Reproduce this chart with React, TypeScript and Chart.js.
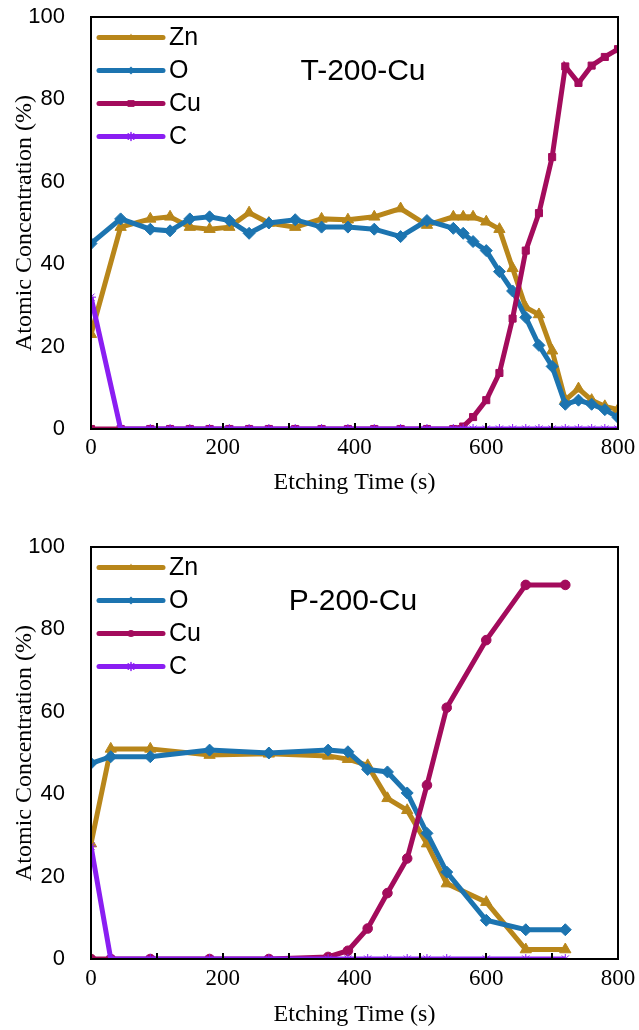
import React, { useEffect, useRef } from 'react';
import { Chart, registerables } from 'chart.js';

Chart.register(...registerables);

// ---------- Data ----------
const SERIES_NAMES = ['Zn', 'O', 'Cu', 'C'];

// T-200-Cu
const T_TIME = [0, 45, 90, 120, 150, 180, 210, 240, 270, 310, 350, 390, 430, 470, 510, 550, 565, 580, 600, 620, 640, 660, 680, 700, 720, 740, 760, 780, 800];
const T_ZN = [23, 49, 51, 51.5, 49, 48.5, 49, 52.5, 50, 49, 51, 50.8, 51.5, 53.5, 49.5, 51.5, 51.5, 51.5, 50.3, 48.5, 39, 29.5, 27.8, 19, 7, 9.8, 7, 5.5, 4.7];
const T_O = [45, 51, 48.5, 48.1, 51, 51.5, 50.6, 47.5, 50, 50.8, 49, 49, 48.5, 46.7, 50.6, 48.7, 47.5, 45.5, 43.3, 38.2, 33.5, 27.1, 20.3, 15.2, 6, 7, 6, 4.7, 2.8];
const T_CU = [0, 0, 0, 0, 0, 0, 0, 0, 0, 0, 0, 0, 0, 0, 0, 0, 0.6, 2.9, 7, 13.6, 26.8, 43.3, 52.4, 66, 88, 84, 88.2, 90.3, 92.2];
const T_C = [32, 0, 0, 0, 0, 0, 0, 0, 0, 0, 0, 0, 0, 0, 0, 0, 0, 0, 0, 0, 0, 0, 0, 0, 0, 0, 0, 0, 0];

// P-200-Cu
const P_TIME = [0, 30, 90, 180, 270, 360, 390, 420, 450, 480, 510, 540, 600, 660, 720];
const P_ZN = [28, 51, 51, 49.5, 49.8, 49.3, 48.5, 47, 39, 36.1, 28, 18.3, 13.8, 2.3, 2.3];
const P_O = [47.5, 49.1, 49.1, 50.7, 50, 50.7, 50.3, 46, 45.4, 40.3, 30.5, 21.1, 9.4, 7.1, 7.1];
const P_CU = [0, 0, 0, 0, 0, 0.5, 2, 7.4, 16, 24.4, 42.2, 61, 77.4, 90.8, 90.8];
const P_C = [27.4, 0, 0, 0, 0, 0, 0, 0, 0, 0, 0, 0, 0, 0, 0];

const X_MIN = 0;
const X_MAX = 800;
const X_STEP = 100;
const X_LABEL_STEP = 200;
const Y_MIN = 0;
const Y_MAX = 100;
const Y_STEP = 20;

const X_TITLE = 'Etching Time (s)';
const Y_TITLE = 'Atomic Concentration (%)';

// ---------- Styles ----------
const COLORS = ['#B8861A', '#1C74B0', '#A30B5C', '#8A1EF2'];
const SANS = '"Liberation Sans", Arial, sans-serif';
const SERIF = '"Liberation Serif", "Times New Roman", serif';
const W = 639;
const H = 515;
const PLOT_LEFT = 91;
const PLOT_RIGHT = 618;

type PanelProps = {
  time: number[];
  series: number[][];
  cuStyle: string;
  title: string;
  titleX: number;
  padTop: number;
  plotBottom: number;
  tickPad: number;
  titlePadBottom: number;
};

function drawMarker(ctx: CanvasRenderingContext2D, style: string, x: number, y: number, r: number, color: string) {
  ctx.save();
  ctx.fillStyle = color;
  ctx.strokeStyle = color;
  ctx.beginPath();
  if (style === 'triangle') {
    ctx.moveTo(x, y - r);
    ctx.lineTo(x + r * 0.9, y + r * 0.6);
    ctx.lineTo(x - r * 0.9, y + r * 0.6);
    ctx.closePath();
    ctx.fill();
  } else if (style === 'rectRot') {
    ctx.moveTo(x, y - r);
    ctx.lineTo(x + r, y);
    ctx.lineTo(x, y + r);
    ctx.lineTo(x - r, y);
    ctx.closePath();
    ctx.fill();
  } else if (style === 'rect') {
    ctx.fillRect(x - r * 0.85, y - r * 0.85, r * 1.7, r * 1.7);
  } else if (style === 'circle') {
    ctx.arc(x, y, r * 0.9, 0, Math.PI * 2);
    ctx.fill();
  } else {
    ctx.lineWidth = 1.5;
    ctx.moveTo(x, y - r);
    ctx.lineTo(x, y + r);
    ctx.moveTo(x - r * 0.7, y - r * 0.7);
    ctx.lineTo(x + r * 0.7, y + r * 0.7);
    ctx.moveTo(x + r * 0.7, y - r * 0.7);
    ctx.lineTo(x - r * 0.7, y + r * 0.7);
    ctx.stroke();
  }
  ctx.restore();
}

function Panel(props: PanelProps) {
  const ref = useRef<HTMLCanvasElement | null>(null);

  useEffect(() => {
    const canvas = ref.current;
    if (!canvas) return;
    const styles = ['triangle', 'rectRot', props.cuStyle, 'star'];
    const radii = [6.5, 6, props.cuStyle === 'rect' ? 5 : 4.8, 5];

    const datasets = SERIES_NAMES.map((name, i) => ({
      label: name,
      data: props.time.map((t, k) => ({ x: t, y: props.series[i][k] })),
      borderColor: COLORS[i],
      backgroundColor: COLORS[i],
      pointBackgroundColor: COLORS[i],
      pointBorderColor: COLORS[i],
      borderWidth: 5,
      pointStyle: styles[i],
      pointRadius: radii[i],
      pointBorderWidth: 1,
      tension: 0,
      order: 4 - i,
    }));

    const overlay = {
      id: 'overlay',
      afterDatasetsDraw(chart: any) {
        const ctx: CanvasRenderingContext2D = chart.ctx;
        const { left, top, right, bottom } = chart.chartArea;
        const xs = chart.scales.x;
        ctx.save();
        // inward tick marks
        ctx.strokeStyle = '#000';
        ctx.lineWidth = 2;
        xs.ticks.forEach((t: any) => {
          if (t.value <= X_MIN || t.value >= X_MAX) return;
          const px = Math.round(xs.getPixelForValue(t.value));
          ctx.beginPath();
          ctx.moveTo(px, bottom);
          ctx.lineTo(px, bottom - 6);
          ctx.stroke();
        });
        // frame
        ctx.lineWidth = 2;
        ctx.strokeRect(left, top, right - left, bottom - top);
        // legend
        SERIES_NAMES.forEach((name, i) => {
          const y = top + 20.5 + 33 * i;
          ctx.strokeStyle = COLORS[i];
          ctx.lineWidth = 5;
          ctx.lineCap = 'round';
          ctx.beginPath();
          ctx.moveTo(left + 8, y);
          ctx.lineTo(left + 72, y);
          ctx.stroke();
          drawMarker(ctx, styles[i], left + 40, y, 4, COLORS[i]);
          ctx.fillStyle = '#000';
          ctx.font = '25px ' + SANS;
          ctx.textAlign = 'left';
          ctx.textBaseline = 'middle';
          ctx.fillText(name, left + 78, y + 1);
        });
        // title
        ctx.fillStyle = '#000';
        ctx.font = '30px ' + SANS;
        ctx.textAlign = 'center';
        ctx.textBaseline = 'middle';
        ctx.fillText(props.title, props.titleX, top + 55);
        ctx.restore();
      },
    };

    const chart = new Chart(canvas, {
      type: 'line',
      data: { datasets: datasets as any },
      options: {
        animation: false,
        responsive: false,
        devicePixelRatio: 1,
        layout: { padding: { top: props.padTop, right: W - PLOT_RIGHT, left: 0, bottom: 0 } },
        plugins: { legend: { display: false }, tooltip: { enabled: false }, title: { display: false } },
        scales: {
          x: {
            type: 'linear',
            min: X_MIN,
            max: X_MAX,
            grid: { display: false, drawTicks: false },
            border: { display: false },
            afterFit: (s: any) => {
              s.height = H - props.plotBottom;
              s.paddingLeft = 0;
              s.paddingRight = 0;
            },
            ticks: {
              stepSize: X_STEP,
              autoSkip: false,
              maxRotation: 0,
              padding: props.tickPad,
              color: '#000',
              font: { family: SERIF, size: 23 },
              callback: (v: any) => (Number(v) % X_LABEL_STEP === 0 ? String(v) : ''),
            },
            title: {
              display: true,
              text: X_TITLE,
              color: '#000',
              font: { family: SERIF, size: 24 },
              padding: { top: 0, bottom: props.titlePadBottom },
            },
          },
          y: {
            type: 'linear',
            min: Y_MIN,
            max: Y_MAX,
            grid: { display: false, drawTicks: false },
            border: { display: false },
            afterFit: (s: any) => {
              s.width = PLOT_LEFT;
              s.paddingTop = 0;
              s.paddingBottom = 0;
            },
            ticks: {
              stepSize: Y_STEP,
              padding: 26,
              color: '#000',
              font: { family: SANS, size: 22 },
            },
            title: {
              display: true,
              text: Y_TITLE,
              color: '#000',
              font: { family: SERIF, size: 24 },
              padding: { top: 10, bottom: 0 },
            },
          },
        },
      },
      plugins: [overlay],
    });
    return () => chart.destroy();
  }, [props]);

  return <canvas ref={ref} width={W} height={H} style={{ display: 'block', width: W, height: H }} />;
}

const TOP_PROPS: PanelProps = {
  time: T_TIME,
  series: [T_ZN, T_O, T_CU, T_C],
  cuStyle: 'rect',
  title: 'T-200-Cu',
  titleX: 363,
  padTop: 17,
  plotBottom: 429,
  tickPad: 5,
  titlePadBottom: 18,
};

const BOTTOM_PROPS: PanelProps = {
  time: P_TIME,
  series: [P_ZN, P_O, P_CU, P_C],
  cuStyle: 'circle',
  title: 'P-200-Cu',
  titleX: 353,
  padTop: 32,
  plotBottom: 444,
  tickPad: 6,
  titlePadBottom: 1,
};

export default function App() {
  return (
    <div style={{ position: 'fixed', left: 0, top: 0, width: W, height: 2 * H, background: '#fff' }}>
      <Panel {...TOP_PROPS} />
      <Panel {...BOTTOM_PROPS} />
    </div>
  );
}
